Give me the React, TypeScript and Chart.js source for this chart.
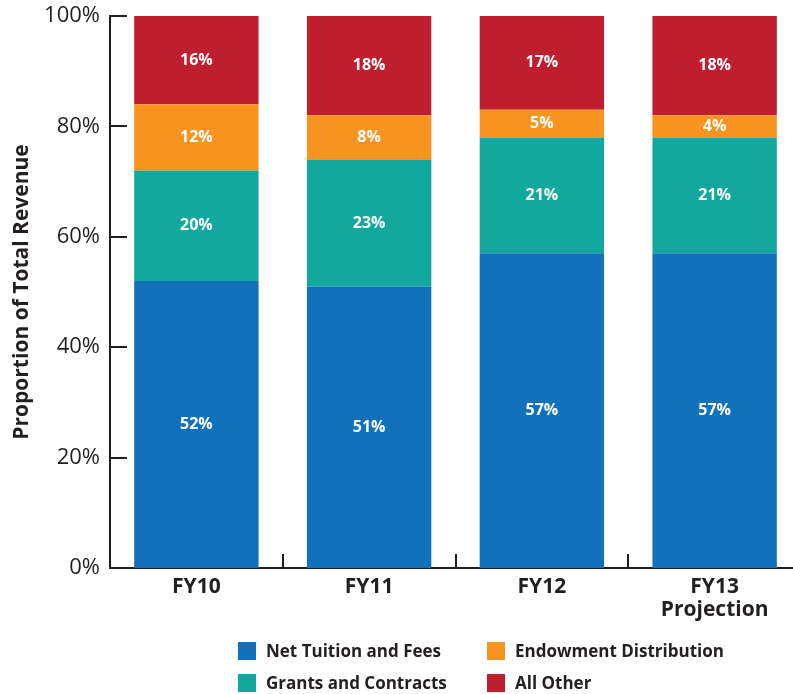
import React, { useEffect, useRef } from "react";
import { Chart, registerables } from "chart.js";

Chart.register(...registerables);

const categories: (string | string[])[] = ["FY10", "FY11", "FY12", ["FY13", "Projection"]];
const netTuition = [52, 51, 57, 57];
const grants = [20, 23, 21, 21];
const endowment = [12, 8, 5, 4];
const allOther = [16, 18, 17, 18];
const seriesNames = ["Net Tuition and Fees", "Grants and Contracts", "Endowment Distribution", "All Other"];
const seriesColors = ["#1172BB", "#13A89E", "#F7931E", "#BE1E2D"];
const yTickValues = [0, 20, 40, 60, 80, 100];
const yTitle = "Proportion of Total Revenue";

const INK = "#231F20";
const FONT = "'Open Sans', 'Noto Sans', sans-serif";

const valueLabels = {
  id: "valueLabels",
  afterDatasetsDraw(chart: any) {
    const ctx = chart.ctx;
    ctx.save();
    ctx.font = `bold 16px ${FONT}`;
    ctx.fillStyle = "#ffffff";
    ctx.textAlign = "center";
    ctx.textBaseline = "middle";
    chart.data.datasets.forEach((ds: any, i: number) => {
      const meta = chart.getDatasetMeta(i);
      meta.data.forEach((el: any, j: number) => {
        const p = el.getCenterPoint();
        ctx.fillText(`${ds.data[j]}%`, p.x, p.y);
      });
    });
    ctx.restore();
  },
};

const axisMarks = {
  id: "axisMarks",
  afterDraw(chart: any) {
    const { ctx, chartArea, scales } = chart;
    const ys = scales.y;
    const xs = scales.x;
    ctx.save();
    ctx.strokeStyle = INK;
    ctx.lineWidth = 2;
    ys.ticks.forEach((t: any) => {
      const py = Math.round(ys.getPixelForValue(t.value));
      ctx.beginPath();
      ctx.moveTo(chartArea.left, py);
      ctx.lineTo(chartArea.left + 17, py);
      ctx.stroke();
    });
    for (let i = 0; i < categories.length - 1; i++) {
      const px = Math.round((xs.getPixelForValue(i) + xs.getPixelForValue(i + 1)) / 2);
      ctx.beginPath();
      ctx.moveTo(px, chartArea.bottom);
      ctx.lineTo(px, chartArea.bottom - 14);
      ctx.stroke();
    }
    ctx.restore();
  },
};

function ChartView() {
  const ref = useRef<HTMLCanvasElement | null>(null);
  useEffect(() => {
    if (!ref.current) return;
    const seriesData = [netTuition, grants, endowment, allOther];
    const chart = new Chart(ref.current, {
      type: "bar",
      data: {
        labels: categories,
        datasets: seriesData.map((d, i) => ({
          label: seriesNames[i],
          data: d,
          backgroundColor: seriesColors[i],
          borderWidth: 0,
          categoryPercentage: 1,
          barPercentage: 0.72,
        })),
      },
      options: {
        animation: false,
        responsive: true,
        maintainAspectRatio: false,
        layout: { padding: { top: 16, right: 0, bottom: 0, left: 0 } },
        plugins: {
          legend: { display: false },
          tooltip: { enabled: false },
        },
        scales: {
          x: {
            stacked: true,
            grid: { display: false, drawTicks: false },
            border: { display: true, color: INK, width: 2 },
            ticks: {
              color: INK,
              font: { family: FONT, size: 21, weight: "bold", lineHeight: 1.1 },
              padding: 7,
              maxRotation: 0,
              autoSkip: false,
            },
            afterFit: (s: any) => {
              s.height = 126;
              s.paddingLeft = 0;
              s.paddingRight = 0;
            },
          },
          y: {
            stacked: true,
            min: 0,
            max: 100,
            afterBuildTicks: (s: any) => {
              s.ticks = yTickValues.map((v) => ({ value: v }));
            },
            grid: { display: false, drawTicks: false },
            border: { display: true, color: INK, width: 2 },
            ticks: {
              color: INK,
              font: { family: FONT, size: 22 },
              padding: 10,
              callback: (v: any) => `${v}%`,
            },
            title: {
              display: true,
              text: yTitle,
              color: INK,
              font: { family: FONT, size: 21, weight: "bold" },
              padding: { top: 9, bottom: 0 },
            },
            afterFit: (s: any) => {
              s.width = 110;
              s.paddingTop = 0;
              s.paddingBottom = 0;
            },
          },
        },
      },
      plugins: [valueLabels, axisMarks],
    });
    return () => chart.destroy();
  }, []);
  return <canvas ref={ref} />;
}

const legendOrder = [0, 2, 1, 3];

export default function App() {
  return (
    <div
      style={{
        position: "fixed",
        left: 0,
        top: 0,
        width: 801,
        height: 694,
        background: "#ffffff",
        fontFamily: FONT,
      }}
    >
      <div style={{ position: "absolute", left: 0, top: 0, width: 801, height: 694 }}>
        <ChartView />
      </div>
      {legendOrder.map((si, k) => {
        const col = k % 2;
        const row = Math.floor(k / 2);
        return (
          <div
            key={si}
            style={{
              position: "absolute",
              left: col === 0 ? 238 : 487,
              top: row === 0 ? 642 : 674,
              height: 18,
              display: "flex",
              alignItems: "center",
              whiteSpace: "nowrap",
            }}
          >
            <span
              style={{
                display: "inline-block",
                width: 18,
                height: 18,
                background: seriesColors[si],
                marginRight: 10,
              }}
            />
            <span style={{ fontWeight: 700, fontSize: 17, color: INK, lineHeight: "18px" }}>
              {seriesNames[si]}
            </span>
          </div>
        );
      })}
    </div>
  );
}
